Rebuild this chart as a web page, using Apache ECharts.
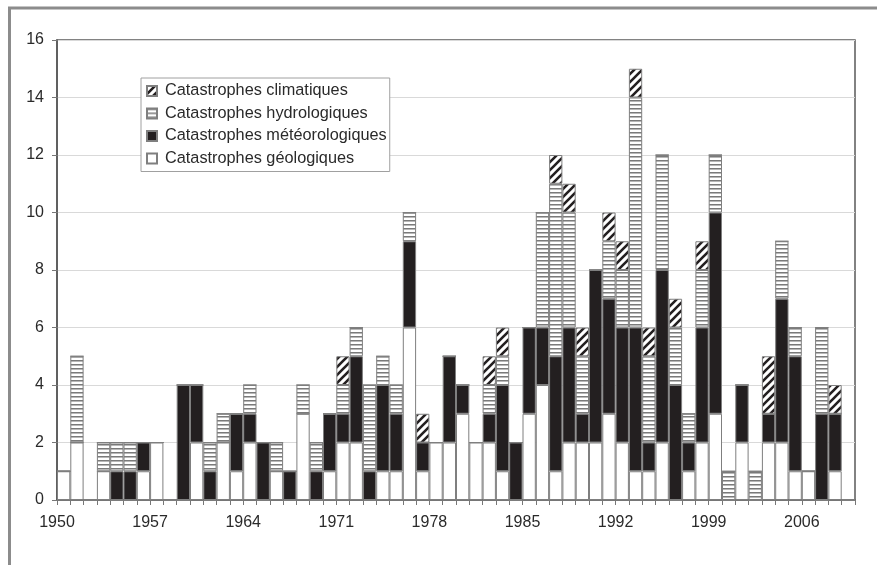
<!DOCTYPE html>
<html>
<head>
<meta charset="utf-8">
<script src="https://cdn.jsdelivr.net/npm/echarts@6/dist/echarts.min.js"></script>
<style>
html,body{margin:0;padding:0;background:#fff;}
#chart{width:877px;height:565px;}
</style>
</head>
<body>
<div id="chart"></div>
<script>
const years = ['1950','1951','1952','1953','1954','1955','1956','1957','1958','1959',
  '1960','1961','1962','1963','1964','1965','1966','1967','1968','1969',
  '1970','1971','1972','1973','1974','1975','1976','1977','1978','1979',
  '1980','1981','1982','1983','1984','1985','1986','1987','1988','1989',
  '1990','1991','1992','1993','1994','1995','1996','1997','1998','1999',
  '2000','2001','2002','2003','2004','2005','2006','2007','2008','2009'];

const geologiques = [1,2,0,1,0,0,1,2,0,0,
  2,0,2,1,2,0,1,0,3,0,
  1,2,2,0,1,1,6,1,2,2,
  3,2,2,1,0,3,4,1,2,2,
  2,3,2,1,1,2,0,1,2,3,
  0,2,0,2,2,1,1,0,1,0];

const meteorologiques = [0,0,0,0,1,1,1,0,0,4,
  2,1,0,2,1,2,0,1,0,1,
  2,1,3,1,3,2,3,1,0,3,
  1,0,1,3,2,3,2,4,4,1,
  6,4,4,5,1,6,4,1,4,7,
  0,2,0,1,5,4,0,3,2,0];

const hydrologiques = [0,3,0,1,1,1,0,0,0,0,
  0,1,1,0,1,0,1,0,1,1,
  0,1,1,3,1,1,1,0,0,0,
  0,0,1,1,0,0,4,6,4,2,
  0,2,2,8,3,4,2,1,2,2,
  1,0,1,0,2,1,0,3,0,0];

const climatiques = [0,0,0,0,0,0,0,0,0,0,
  0,0,0,0,0,0,0,0,0,0,
  0,1,0,0,0,0,0,1,0,0,
  0,0,1,1,0,0,0,1,1,1,
  0,1,1,1,1,0,1,0,1,0,
  0,0,0,2,0,0,0,0,1,0];

const yTicks = [0,2,4,6,8,10,12,14,16];

const names = ['Catastrophes climatiques','Catastrophes hydrologiques','Catastrophes météorologiques','Catastrophes géologiques'];

function hydroPattern(){
  const c = document.createElement('canvas'); c.width = 4; c.height = 4;
  const g = c.getContext('2d');
  g.fillStyle = '#ffffff'; g.fillRect(0,0,4,4);
  g.fillStyle = '#7a7a7a'; g.fillRect(0,0,4,1);
  g.fillStyle = '#b8b8b8'; g.fillRect(0,1,4,1);
  return c;
}
function climPattern(){
  const c = document.createElement('canvas'); c.width = 8; c.height = 8;
  const g = c.getContext('2d');
  g.fillStyle = '#ffffff'; g.fillRect(0,0,8,8);
  g.strokeStyle = '#231f20'; g.lineWidth = 2.6;
  g.beginPath();
  g.moveTo(-1,9); g.lineTo(9,-1);
  g.moveTo(-5,5); g.lineTo(5,-5);
  g.moveTo(3,13); g.lineTo(13,3);
  g.stroke();
  return c;
}

const border = {borderColor:'#7f7f7f', borderWidth:1};
const font = '"Liberation Sans", Arial, sans-serif';

const chart = echarts.init(document.getElementById('chart'), null, {renderer:'canvas'});
chart.setOption({
  animation: false,
  backgroundColor: '#ffffff',
  graphic: [
    {type:'line', shape:{x1:8, y1:8, x2:877, y2:8}, style:{stroke:'#8c8c8c', lineWidth:3}, silent:true},
    {type:'line', shape:{x1:9.5, y1:8, x2:9.5, y2:565}, style:{stroke:'#8c8c8c', lineWidth:3}, silent:true}
  ],
  grid: {left:57, right:22, top:40, bottom:65, show:true, borderColor:'#5a5a5a', borderWidth:1.5},
  legend: {
    orient:'vertical', left:141, top:78,
    data: names,
    backgroundColor:'#ffffff', borderColor:'#a0a0a0', borderWidth:1,
    padding:[5,3,5,5],
    itemWidth:10, itemHeight:10, itemGap:6.5,
    icon:'rect',
    textStyle:{fontFamily:font, fontSize:16.3, color:'#2a2a2a', lineHeight:16, padding:[0,0,0,3]}
  },
  xAxis: {
    type:'category', data: years, boundaryGap:true,
    axisLine:{lineStyle:{color:'#555555', width:1.5}},
    axisTick:{show:true, interval:0, length:5, lineStyle:{color:'#777777'}},
    axisLabel:{interval:6, fontFamily:font, fontSize:16, color:'#2a2a2a', margin:15, padding:[0,13.3,0,0]},
    splitLine:{show:false}
  },
  yAxis: {
    type:'value', min:yTicks[0], max:yTicks[yTicks.length-1], interval:2,
    axisLine:{show:true, lineStyle:{color:'#555555', width:1.5}},
    axisTick:{show:true, length:5, lineStyle:{color:'#777777'}},
    axisLabel:{fontFamily:font, fontSize:16, color:'#2a2a2a', margin:13},
    splitLine:{show:true, lineStyle:{color:'#d9d9d9', width:1}}
  },
  series: [
    {name:names[3], type:'bar', stack:'t', data:geologiques, barCategoryGap:'0%',
      itemStyle:Object.assign({color:'#ffffff'}, border)},
    {name:names[2], type:'bar', stack:'t', data:meteorologiques, barCategoryGap:'0%',
      itemStyle:Object.assign({color:'#231f20'}, border)},
    {name:names[1], type:'bar', stack:'t', data:hydrologiques, barCategoryGap:'0%',
      itemStyle:Object.assign({color:{image:hydroPattern(), repeat:'repeat'}}, border)},
    {name:names[0], type:'bar', stack:'t', data:climatiques, barCategoryGap:'0%',
      itemStyle:Object.assign({color:{image:climPattern(), repeat:'repeat'}}, border)}
  ]
});
</script>
</body>
</html>
